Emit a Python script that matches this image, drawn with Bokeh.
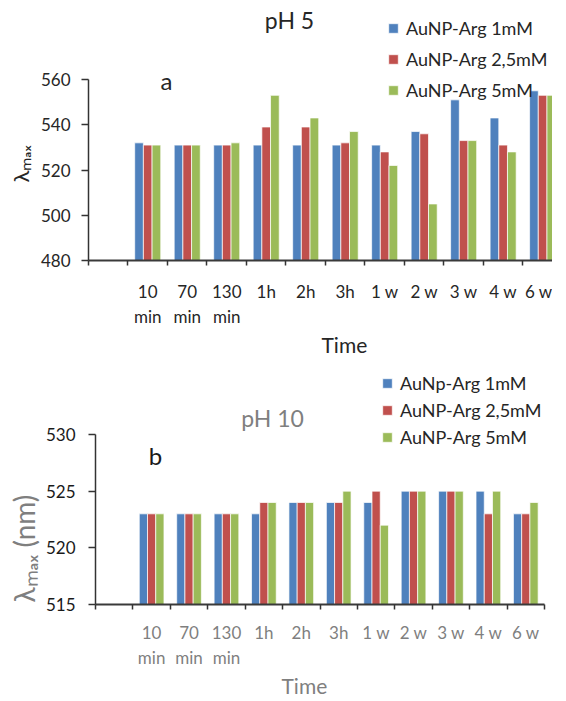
import numpy as np
from bokeh.plotting import figure
from bokeh.models import (Range1d, FixedTicker, Label, Legend, LegendItem,
                          ColumnDataSource, Title)
from bokeh.embed import file_html
from bokeh.resources import INLINE

# ---------------- data ----------------
time_labels = ["10\nmin", "70\nmin", "130\nmin", "1h", "2h", "3h",
               "1 w", "2 w", "3 w", "4 w", "6 w"]

ph5_names = ["AuNP-Arg 1mM", "AuNP-Arg 2,5mM", "AuNP-Arg 5mM"]
ph5_1mM = [532, 531, 531, 531, 531, 531, 531, 537, 551, 543, 555]
ph5_25mM = [531, 531, 531, 539, 539, 532, 528, 536, 533, 531, 553]
ph5_5mM = [531, 531, 532, 553, 543, 537, 522, 505, 533, 528, 553]

ph10_names = ["AuNp-Arg 1mM", "AuNP-Arg 2,5mM", "AuNP-Arg 5mM"]
ph10_1mM = [523, 523, 523, 523, 524, 524, 524, 525, 525, 525, 523]
ph10_25mM = [523, 523, 523, 524, 524, 524, 525, 525, 525, 523, 523]
ph10_5mM = [523, 523, 523, 524, 524, 525, 522, 525, 525, 525, 524]

colors = ["#4F81BD", "#C0504D", "#9BBB59"]
FONT = "Lato"

# slot 0 is the empty first category; data occupy slots 1..11
centers = [i + 1.5 for i in range(len(time_labels))]
bounds = list(range(0, len(time_labels) + 2))


def build(series, names, y0, y1, ytop, xend, fw, fh, bl, br, bb,
          yticks, xlab_color, ylab_color, line_h, x_standoff, y_standoff,
          legend_loc, legend_lh, legend_sp):
    p = figure(frame_width=fw, frame_height=fh, output_backend="svg",
               toolbar_location=None, x_range=Range1d(0, xend),
               y_range=Range1d(y0, ytop), min_border_left=bl,
               min_border_right=br, min_border_top=0, min_border_bottom=bb)
    p.outline_line_color = None
    p.grid.visible = False
    p.background_fill_color = "white"
    p.border_fill_color = "white"

    offs = [-0.22, 0.0, 0.22]
    items = []
    for vals, name, col, off in zip(series, names, colors, offs):
        src = ColumnDataSource(dict(x=[c + off for c in centers], top=vals))
        r = p.vbar(x="x", top="top", bottom=y0, width=0.22, source=src,
                   fill_color=col, line_color="white", line_width=1,
                   line_alpha=0.7)
        items.append(LegendItem(label=name, renderers=[r]))

    leg = Legend(items=items, location=legend_loc, orientation="vertical",
                 glyph_width=12, glyph_height=12, label_height=legend_lh,
                 spacing=legend_sp, padding=0, margin=0, label_standoff=7,
                 border_line_color=None, background_fill_alpha=0,
                 label_text_font=FONT, label_text_font_size="18px",
                 label_text_color="#262626")
    p.add_layout(leg)

    xa = p.xaxis[0]
    xa.ticker = FixedTicker(ticks=centers, minor_ticks=bounds)
    xa.major_label_overrides = {c: t for c, t in zip(centers, time_labels)}
    xa.major_tick_out = 0
    xa.major_tick_in = 0
    xa.minor_tick_out = 5
    xa.minor_tick_in = 0
    xa.minor_tick_line_color = "#333333"
    xa.minor_tick_line_width = 1.5
    xa.axis_line_color = "#3a3a3a"
    xa.axis_line_width = 1.8
    xa.major_label_text_font = FONT
    xa.major_label_text_font_size = "17px"
    xa.major_label_text_color = xlab_color
    xa.major_label_text_line_height = line_h
    xa.major_label_standoff = x_standoff

    ya = p.yaxis[0]
    ya.ticker = FixedTicker(ticks=yticks)
    ya.bounds = (y0, y1)
    ya.major_tick_out = 7
    ya.major_tick_in = 0
    ya.minor_tick_out = 0
    ya.minor_tick_in = 0
    ya.major_tick_line_color = "#333333"
    ya.major_tick_line_width = 1.5
    ya.axis_line_color = "#333333"
    ya.axis_line_width = 1.5
    ya.major_label_text_font = FONT
    ya.major_label_text_font_size = "17px"
    ya.major_label_text_color = ylab_color
    ya.major_label_standoff = y_standoff
    return p


def labeler(p, fl, xs, yb_page, ys, yb_val):
    # converts page pixel positions to data coordinates of figure p
    def add(px, py, text, size, color):
        x = (px - fl) / xs
        y = yb_val + (yb_page - py) / ys
        p.add_layout(Label(x=x, y=y, text=text, text_font=FONT,
                           text_font_size=f"{size}px", text_color=color,
                           text_align="center", text_baseline="middle"))
    return add


def side_title(p, side, text, size, color, offset, standoff):
    p.add_layout(Title(text=text, align="left", offset=offset,
                       standoff=standoff, text_font=FONT,
                       text_font_size=f"{size}px", text_color=color,
                       text_font_style="normal"), side)


# ---------------- top chart (pH 5) ----------------
# frame: page x 94..558, page y 8..268 ; 480 at y=268, 560 at y=87
ys1 = (268 - 87) / 80.0
top1 = 480 + (268 - 8) / ys1
xend1 = 11.75
xs1 = (558 - 94) / xend1
p1 = build([ph5_1mM, ph5_25mM, ph5_5mM], ph5_names, 480, 560, top1, xend1,
           464, 260, 86, 0, 83, [480, 500, 520, 540, 560],
           "#262626", "#262626", 1.2, 15, 11,
           (393 - 94, 268 - 110), 24, 7)
a1 = labeler(p1, 94, xs1, 268, ys1, 480)
a1(295, 27, "pH 5", 23, "#262626")
a1(172, 88, "a", 24, "#262626")
side_title(p1, "below", "Time", 21, "#262626", 233, 0)
side_title(p1, "left", "λₘₐₓ", 22, "#262626", 78, 8)

# ---------------- bottom chart (pH 10) ----------------
# figure starts right under the top one (~page 356); axis at page ~604
FB = 604
FH2 = 248
ys2 = (FB - 434) / 15.0
top2 = 515 + FH2 / ys2
xs2 = (552 - 103) / 12.0
p2 = build([ph10_1mM, ph10_25mM, ph10_5mM], ph10_names, 515, 530, top2, 12,
           449, FH2, 95, 6, 80, [515, 520, 525, 530],
           "#7f7f7f", "#1a1a1a", 1.2, 12, 13,
           (389 - 103, FB - 448), 20, 5)
a2 = labeler(p2, 103, xs2, FB, ys2, 515)
a2(280, 417, "pH 10", 23, "#7f7f7f")
a2(163, 455, "b", 24, "#1a1a1a")
side_title(p2, "below", "Time", 21, "#7f7f7f", 186, 0)
side_title(p2, "left", "λₘₐₓ (nm)", 28, "#7f7f7f", 2, 4)

open("out.html", "w").write(file_html([p1, p2], INLINE))
